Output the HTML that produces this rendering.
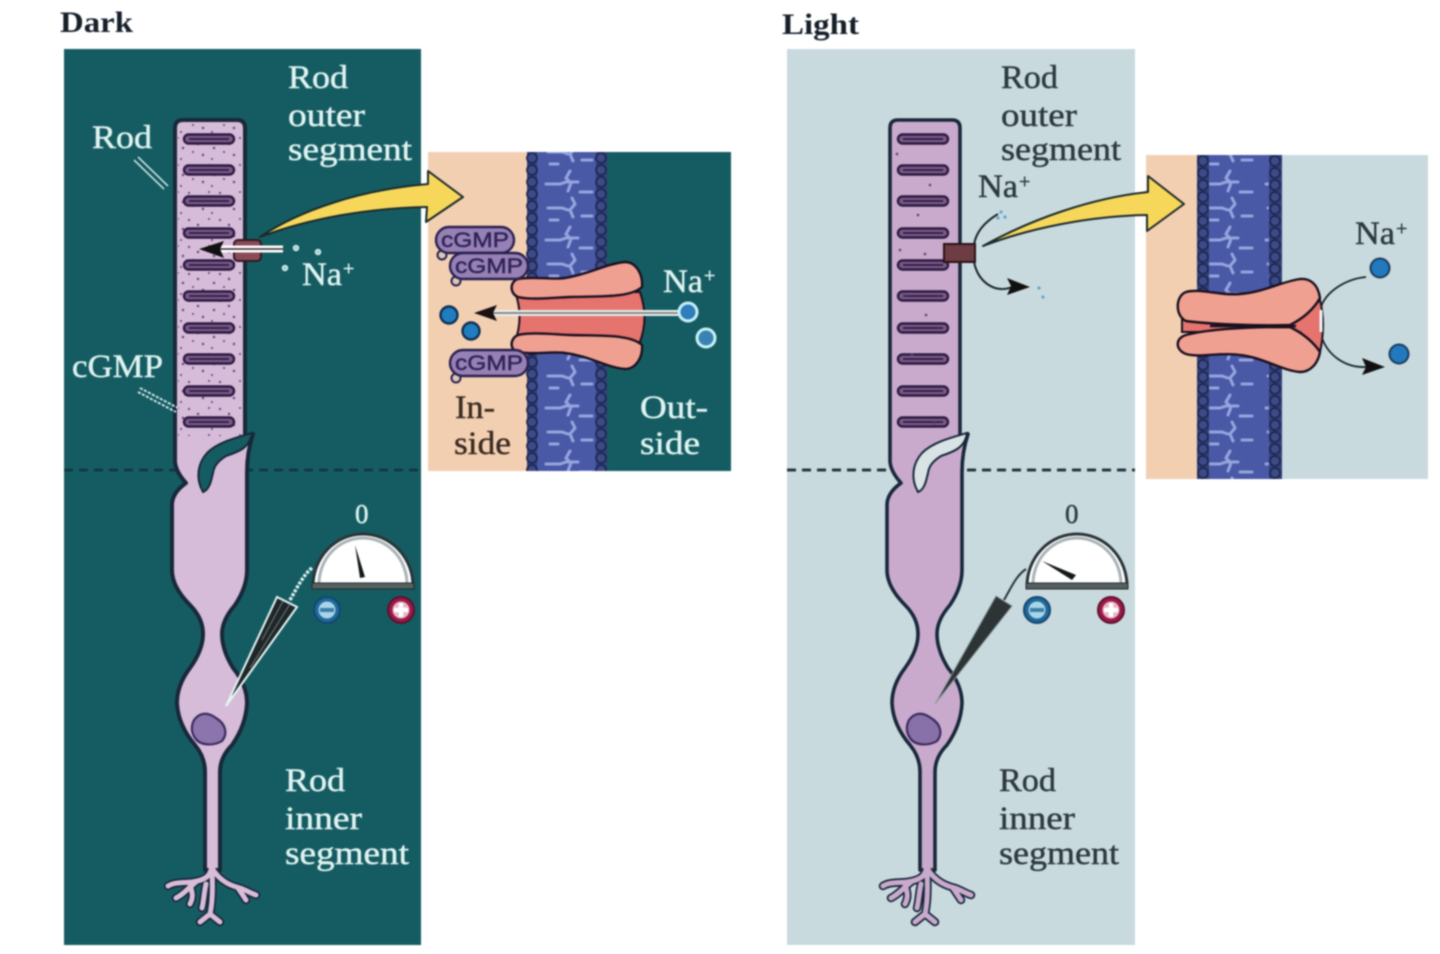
<!DOCTYPE html>
<html><head><meta charset="utf-8"><title>Rod photoreceptor in dark and light</title>
<style>
html,body{margin:0;padding:0;background:#fff;width:1440px;height:954px;overflow:hidden}
svg{display:block;filter:blur(.9px)}
text{font-family:"Liberation Serif",serif;font-size:33px;stroke-width:.45px}
.l{fill:#dff3f1;stroke:#dff3f1}.d{fill:#2c3a3e;stroke:#2c3a3e}
.t{font-weight:bold;font-size:30px;fill:#17202a}
.c{font-family:"Liberation Sans",sans-serif;font-size:21px;fill:#2e2358;stroke:#2e2358}
</style></head><body>
<svg width="1440" height="954" viewBox="0 0 1440 954" xmlns="http://www.w3.org/2000/svg">
<defs>
<pattern id="dots" width="31" height="27" patternUnits="userSpaceOnUse">
<g fill="#5a4580"><circle cx="3" cy="4" r="1.1"/><circle cx="12" cy="9" r="1.2"/><circle cx="23" cy="3" r="1"/><circle cx="28" cy="13" r="1.2"/><circle cx="7" cy="17" r="1"/><circle cx="17" cy="20" r="1.2"/><circle cx="26" cy="24" r="1"/></g>
</pattern>
<pattern id="beads" width="12" height="12" patternUnits="userSpaceOnUse">
<circle cx="6" cy="6" r="5" fill="#3d4a88" stroke="#1d2850" stroke-width="1.8"/>
</pattern>
<pattern id="wisps" width="60" height="56" patternUnits="userSpaceOnUse">
<g fill="none" stroke="#a9b6ec" stroke-width="3" opacity=".8" stroke-linecap="round">
<path d="M6 16h14l6-2h12"/><path d="M30 3l-4 7 5 5-3 8"/><path d="M8 40h14l6 2"/><path d="M32 30l3 6-5 6 3 7"/><path d="M40 24h12"/><path d="M42 48h10"/><path d="M10 52h8"/>
</g>
</pattern>
<g id="term" fill="none" stroke-linecap="round" stroke-linejoin="round">
<path d="M212 862C212 876 206 880 192 882C182 883 174 882 168 886M196 882C186 890 184 894 176 898M190 884C192 892 194 896 190 904M212 872C213 890 212 905 210 914M210 914L200 922M210 914L220 922M212 868C220 882 232 886 240 888C246 890 250 893 256 895M238 888L246 900M206 884C204 892 204 900 202 908"/>
</g>
<path id="rodp" d="M175 128Q175 120 183 120L237 120Q245 120 245 128L245 436L253 434Q247 452 247 472L247 570Q247 587 235 605Q222 620 222 634Q222 650 233 668Q247 685 247 703Q246 725 232 745Q220 757 220 772L220 870L205 870L205 772Q205 757 195 745Q178 725 177 703Q177 685 190 668Q203 650 203 634Q203 618 190 605Q172 587 172 570L172 505Q172 493 186 483Q176 472 175 462Z"/>
<g id="disc"><rect x="184" y="-4.5" width="50" height="9" rx="4.5" fill="#7a5a88" stroke="#2c1a40" stroke-width="2.4"/><line x1="189" x2="229" y1="0" y2="0" stroke="#2c1a40" stroke-width="1.8"/></g>
<g id="discs">
<use href="#disc" y="139"/><use href="#disc" y="170"/><use href="#disc" y="201"/><use href="#disc" y="233"/><use href="#disc" y="265"/><use href="#disc" y="296"/><use href="#disc" y="328"/><use href="#disc" y="359"/><use href="#disc" y="391"/><use href="#disc" y="422"/>
</g>
<path id="cil" d="M252 433C238 437 218 442 207 453C198 463 195 478 203 492C209 490 211 482 213 473C214 466 218 461 226 456C238 452 250 448 252 433Z"/>
<g id="meter">
<path d="M313 586A50 52 0 0 1 413 586Z" fill="#fff" stroke="#2a3438" stroke-width="3"/>
<path d="M319 584A44 46 0 0 1 407 584" fill="none" stroke="#a9b4b6" stroke-width="3"/>
<rect x="312" y="583" width="102" height="6" fill="#56605f" stroke="#20282c" stroke-width="1"/>
</g>
<g id="bminus"><circle cx="327" cy="610" r="13" fill="#1f6a9c" stroke="#16466e" stroke-width="2"/><circle cx="327" cy="610" r="8.5" fill="#a9d4e8"/><rect x="320" y="608" width="14" height="4" fill="#3d7fa8"/></g>
<g id="bplus"><circle cx="401" cy="610" r="13" fill="#9c1a48" stroke="#5e1030" stroke-width="2"/><circle cx="401" cy="610" r="8.5" fill="#e9b6c6"/><path d="M401 603v14M394 610h14" stroke="#fff" stroke-width="4.5"/></g>
<g id="pill"><circle cx="6" cy="28" r="4.5" fill="#d9c8b8" stroke="#2a2050" stroke-width="2"/><rect x="0" y="0" width="78" height="26" rx="13" fill="#9680b4" stroke="#2a2050" stroke-width="2.4"/></g>
</defs>

<rect width="1440" height="954" fill="#fff"/>
<!-- panels -->
<rect x="64" y="49" width="357" height="896" fill="#155c62"/>
<rect x="787" y="49" width="348" height="896" fill="#c9dade"/>
<line x1="64" y1="470" x2="421" y2="470" stroke="#123a44" stroke-width="3" stroke-dasharray="9 6"/>
<line x1="787" y1="470" x2="1135" y2="470" stroke="#26373e" stroke-width="3" stroke-dasharray="9 6"/>

<!-- DARK inset -->
<rect x="428" y="152" width="100" height="319" fill="#f3cfb2"/>
<rect x="606" y="152" width="125" height="319" fill="#155c62"/>
<rect x="527" y="152" width="80" height="319" fill="#33407c"/>
<rect x="537" y="152" width="59" height="319" fill="#4a59a6"/>
<rect x="537" y="152" width="59" height="319" fill="url(#wisps)"/>
<g transform="translate(526 152)"><rect width="12" height="319" fill="url(#beads)"/></g>
<g transform="translate(595 152)"><rect width="12" height="319" fill="url(#beads)"/></g>
<!-- LIGHT inset -->
<rect x="1146" y="155" width="52" height="324" fill="#f3cfb2"/>
<rect x="1282" y="155" width="146" height="324" fill="#c9dade"/>
<rect x="1197" y="155" width="85" height="324" fill="#33407c"/>
<rect x="1209" y="155" width="60" height="324" fill="#4a59a6"/>
<rect x="1209" y="155" width="60" height="324" fill="url(#wisps)"/>
<g transform="translate(1197 155)"><rect width="12" height="324" fill="url(#beads)"/></g>
<g transform="translate(1269 155)"><rect width="12" height="324" fill="url(#beads)"/></g>

<!-- DARK rod -->
<use href="#term" stroke="#18283a" stroke-width="8.5"/>
<use href="#rodp" fill="#d6bcd8" stroke="#18283a" stroke-width="4" stroke-linejoin="round"/>
<use href="#term" stroke="#d8bcd8" stroke-width="5"/>
<rect x="178" y="124" width="64" height="312" fill="url(#dots)"/>
<use href="#discs"/>
<use href="#cil" fill="#155c62" stroke="#18283a" stroke-width="2"/>
<path d="M194 720C200 712 208 712 216 718C226 724 228 734 222 741C214 746 200 746 195 738C191 732 191 726 194 720Z" fill="#8c74ad" stroke="#3c2c60" stroke-width="2.2"/>
<path d="M138 157L168 186M134 160L164 189" stroke="#dff3f1" stroke-width="1.4"/>
<path d="M140 388L178 408M138 392L176 412" stroke="#dff3f1" stroke-width="1.8" stroke-dasharray="3 1.5"/>
<!-- DARK channel small + arrow -->
<rect x="234" y="240" width="27" height="21" rx="4" fill="#8a4a58" stroke="#2e1a20" stroke-width="2"/>
<path d="M220 249H283" stroke="#fff" stroke-width="7"/>
<path d="M218 249H283" stroke="#39262e" stroke-width="1.5"/>
<path d="M199 249L224 241L220 249L224 258Z" fill="#111"/>
<g fill="#8fd0d4" stroke="#e8f8f8" stroke-width="1.3"><circle cx="296" cy="248" r="2.5"/><circle cx="318" cy="252" r="2.5"/><circle cx="285" cy="268" r="2.5"/></g>
<!-- DARK yellow arrow -->
<path d="M260 237C300 210 360 190 428 184L428 171L463 197L426 222L427 207C370 208 310 218 260 237Z" fill="#f6d75a" stroke="#1b2a2c" stroke-width="2" stroke-linejoin="round"/>

<!-- DARK meter & electrode -->
<use href="#meter"/>
<path d="M355 545L360 578L365 577Z" fill="#14181a"/>
<use href="#bminus"/><use href="#bplus"/>
<path d="M226 706L277 597L297 607Z" fill="#1e2628" stroke="#e5f5f3" stroke-width="2"/>
<path d="M283 601L262 640M290 604L250 668" stroke="#6b7b7c" stroke-width="1"/>
<path d="M290 600C298 586 304 574 313 567" fill="none" stroke="#dff3f1" stroke-width="3.4" stroke-dasharray="3 1.5"/>

<!-- DARK inset channel -->
<path d="M515 292H640C646 310 646 325 640 342H515C521 325 521 308 515 292Z" fill="#e5736e" stroke="#1a1020" stroke-width="2"/>
<path d="M518 297C510 294 509 282 518 279C535 276 550 280 565 278C590 274 605 264 625 262C636 262 643 274 642 287C630 298 600 296 570 297C550 298 530 300 518 297Z" fill="#f0a090" stroke="#1a1020" stroke-width="2.4" stroke-linejoin="round"/>
<path d="M518 335C510 338 509 350 518 352C535 355 550 351 565 353C590 356 605 367 625 369C636 369 643 357 642 345C630 334 600 336 570 335C550 334 530 332 518 335Z" fill="#f0a090" stroke="#1a1020" stroke-width="2.4" stroke-linejoin="round"/>
<!-- inset Na arrow -->
<path d="M488 313H680" stroke="#e6eeee" stroke-width="6"/>
<path d="M488 313H680" stroke="#6d6d66" stroke-width="1.6"/>
<path d="M474 313L497 305L493 313L497 321Z" fill="#1c1014"/>
<circle cx="688" cy="312" r="9" fill="#2e7dbd" stroke="#c8f0f4" stroke-width="3"/>
<circle cx="706" cy="338" r="9" fill="#3a82b4" stroke="#c8f0f4" stroke-width="3"/>
<circle cx="449" cy="315" r="8.5" fill="#1f7ec0" stroke="#123050" stroke-width="2.4"/>
<circle cx="471" cy="331" r="8.5" fill="#1f7ec0" stroke="#123050" stroke-width="2.4"/>
<!-- cGMP pills -->
<use href="#pill" x="436" y="227"/><use href="#pill" x="450" y="253"/><use href="#pill" x="450" y="350"/>
<text class="c" x="441" y="247" textLength="68" lengthAdjust="spacingAndGlyphs">cGMP</text>
<text class="c" x="455" y="273" textLength="68" lengthAdjust="spacingAndGlyphs">cGMP</text>
<text class="c" x="455" y="370" textLength="68" lengthAdjust="spacingAndGlyphs">cGMP</text>

<!-- LIGHT rod -->
<g transform="translate(715 0)">
<use href="#term" stroke="#18283a" stroke-width="8.5"/>
<use href="#rodp" fill="#c9aacc" stroke="#18283a" stroke-width="3.6" stroke-linejoin="round"/>
<use href="#term" stroke="#c9aacc" stroke-width="5"/>
<g transform="translate(-1 0)"><use href="#discs"/></g>
<use href="#cil" fill="#d9e3e6" stroke="#18283a" stroke-width="2"/>
<path d="M194 720C200 712 208 712 216 718C226 724 228 734 222 741C214 746 200 746 195 738C191 732 191 726 194 720Z" fill="#8870a8" stroke="#3c2c60" stroke-width="2.2"/>
</g>
<g fill="#5a4272"><circle cx="897" cy="154" r="1.3"/><circle cx="930" cy="185" r="1.3"/><circle cx="918" cy="215" r="1.3"/><circle cx="900" cy="250" r="1.3"/><circle cx="925" cy="254" r="1.3"/><circle cx="904" cy="295" r="1.3"/><circle cx="926" cy="315" r="1.3"/><circle cx="912" cy="355" r="1.3"/><circle cx="935" cy="423" r="1.3"/></g>
<!-- LIGHT small channel + arrows -->
<rect x="944" y="244" width="31" height="18" fill="#6e3d44" stroke="#2a1216" stroke-width="2"/>
<path d="M974 245C976 230 988 220 998 214" fill="none" stroke="#1a2428" stroke-width="2"/>
<path d="M974 262C978 282 995 294 1012 287" fill="none" stroke="#1a2428" stroke-width="2"/>
<path d="M1030 287L1007 278L1011 286L1007 295Z" fill="#111"/>
<g fill="#5ca8cc"><circle cx="1001" cy="212" r="1.6"/><circle cx="1005" cy="217" r="1.6"/><circle cx="998" cy="218" r="1.6"/><circle cx="1043" cy="297" r="1.6"/><circle cx="1039" cy="288" r="1.6"/></g>
<!-- LIGHT yellow arrow -->
<path d="M983 246C1030 220 1090 198 1148 192L1148 176L1184 204L1147 231L1147 215C1090 216 1030 228 983 246Z" fill="#f6d75a" stroke="#1b2a2c" stroke-width="2" stroke-linejoin="round"/>
<!-- LIGHT meter -->
<g transform="translate(714 0)"><use href="#meter"/><use href="#bminus" x="-4"/><use href="#bplus" x="-4"/></g>
<path d="M1042 561L1072 580L1076 575Z" fill="#14181a"/>
<path d="M935 704L996 596L1012 606Z" fill="#2c3436" stroke="#8c9a9c" stroke-width="1"/>
<path d="M1004 600C1012 586 1016 576 1026 569" fill="none" stroke="#26343a" stroke-width="2"/>
<!-- LIGHT inset channel -->
<path d="M1182 318H1300L1320 300C1324 315 1324 335 1320 352L1300 332H1182Z" fill="#e5736e" stroke="#1a1020" stroke-width="2"/>
<path d="M1186 292C1175 296 1175 316 1186 321C1210 324 1250 326 1290 325C1300 320 1312 312 1320 298C1318 284 1310 278 1300 279C1280 282 1265 292 1240 294C1220 296 1200 288 1186 292Z" fill="#f0a090" stroke="#1a1020" stroke-width="2.4" stroke-linejoin="round"/>
<path d="M1186 354C1175 350 1175 338 1186 335C1205 330 1240 327 1290 327C1300 332 1312 340 1320 352C1318 364 1310 372 1300 372C1280 370 1265 358 1240 355C1220 352 1200 358 1186 354Z" fill="#f0a090" stroke="#1a1020" stroke-width="2.4" stroke-linejoin="round"/>
<path d="M1210 326H1296" stroke="#1a1020" stroke-width="2.6"/>
<path d="M1321 310V332" stroke="#eef4f4" stroke-width="3"/>
<path d="M1321 307C1326 292 1345 279 1366 277" fill="none" stroke="#1a2428" stroke-width="1.8"/>
<path d="M1322 338C1328 355 1345 368 1366 367" fill="none" stroke="#1a2428" stroke-width="1.8"/>
<path d="M1385 367L1362 358L1366 367L1362 375Z" fill="#111"/>
<circle cx="1380" cy="268" r="9.5" fill="#2379bd" stroke="#1a3c5e" stroke-width="2"/>
<circle cx="1399" cy="354" r="9.5" fill="#2379bd" stroke="#1a3c5e" stroke-width="2"/>

<!-- TEXT -->
<text class="t" x="60" y="32" textLength="73" lengthAdjust="spacingAndGlyphs">Dark</text>
<text class="t" x="782" y="34" textLength="77" lengthAdjust="spacingAndGlyphs">Light</text>
<text class="l" x="288" y="88" textLength="60" lengthAdjust="spacingAndGlyphs">Rod</text>
<text class="l" x="288" y="126" textLength="77" lengthAdjust="spacingAndGlyphs">outer</text>
<text class="l" x="288" y="160" textLength="124" lengthAdjust="spacingAndGlyphs">segment</text>
<text class="l" x="92" y="148" textLength="60" lengthAdjust="spacingAndGlyphs">Rod</text>
<text class="l" x="72" y="377" textLength="91" lengthAdjust="spacingAndGlyphs">cGMP</text>
<text class="l" x="302" y="285" textLength="40" lengthAdjust="spacingAndGlyphs">Na</text>
<text class="l" x="343" y="275" style="font-size:20px">+</text>
<text class="l" x="355" y="523" style="font-size:27px">0</text>
<text class="l" x="285" y="791" textLength="60" lengthAdjust="spacingAndGlyphs">Rod</text>
<text class="l" x="285" y="829" textLength="77" lengthAdjust="spacingAndGlyphs">inner</text>
<text class="l" x="285" y="864" textLength="124" lengthAdjust="spacingAndGlyphs">segment</text>
<text class="l" x="663" y="292" textLength="40" lengthAdjust="spacingAndGlyphs">Na</text>
<text class="l" x="704" y="282" style="font-size:20px">+</text>
<text class="d" x="455" y="418" textLength="40" lengthAdjust="spacingAndGlyphs" style="fill:#3a2c22;stroke:#3a2c22">In-</text>
<text class="d" x="454" y="454" textLength="57" lengthAdjust="spacingAndGlyphs" style="fill:#3a2c22;stroke:#3a2c22">side</text>
<text class="l" x="640" y="418" textLength="68" lengthAdjust="spacingAndGlyphs">Out-</text>
<text class="l" x="640" y="454" textLength="60" lengthAdjust="spacingAndGlyphs">side</text>

<text class="d" x="1001" y="88" textLength="57" lengthAdjust="spacingAndGlyphs">Rod</text>
<text class="d" x="1001" y="126" textLength="76" lengthAdjust="spacingAndGlyphs">outer</text>
<text class="d" x="1001" y="160" textLength="120" lengthAdjust="spacingAndGlyphs">segment</text>
<text class="d" x="978" y="197" textLength="40" lengthAdjust="spacingAndGlyphs">Na</text>
<text class="d" x="1019" y="188" style="font-size:20px">+</text>
<text class="d" x="1065" y="523" style="font-size:27px">0</text>
<text class="d" x="999" y="791" textLength="57" lengthAdjust="spacingAndGlyphs">Rod</text>
<text class="d" x="999" y="829" textLength="76" lengthAdjust="spacingAndGlyphs">inner</text>
<text class="d" x="999" y="864" textLength="120" lengthAdjust="spacingAndGlyphs">segment</text>
<text class="d" x="1355" y="244" textLength="40" lengthAdjust="spacingAndGlyphs">Na</text>
<text class="d" x="1396" y="235" style="font-size:20px">+</text>
</svg>
</body></html>
